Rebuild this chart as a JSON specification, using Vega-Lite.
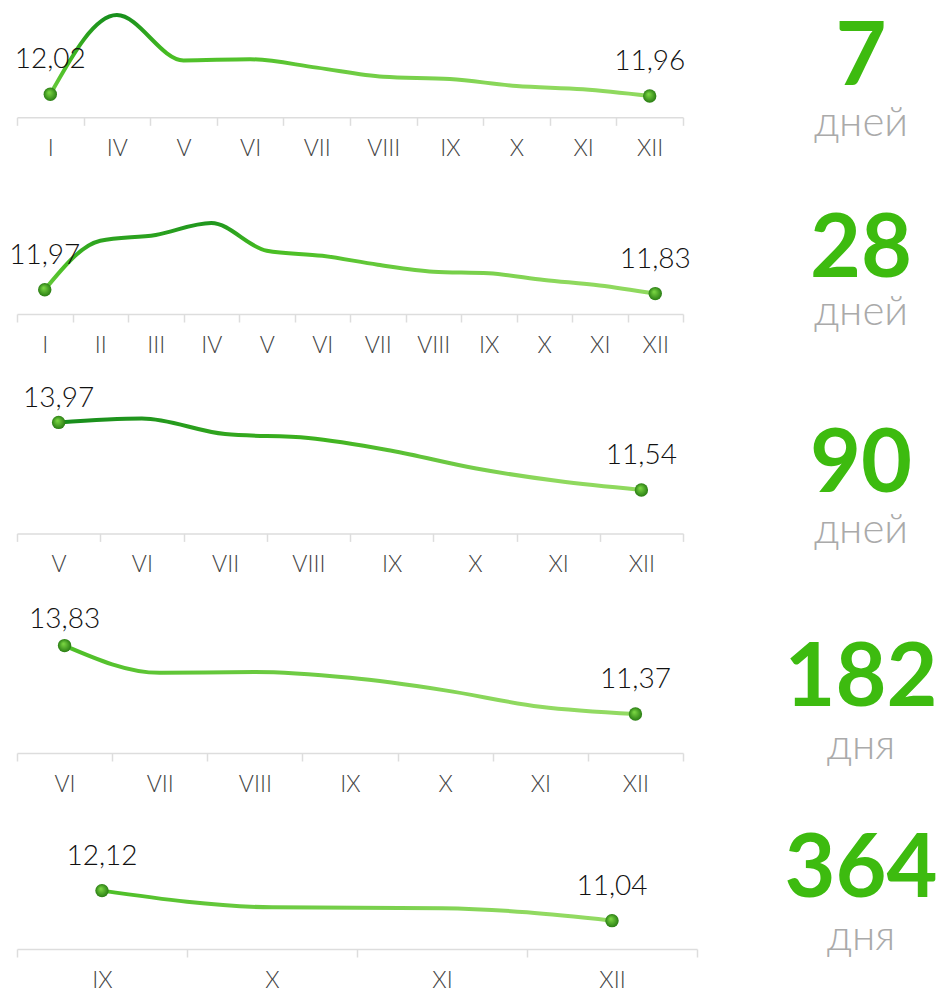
{
  "$schema": "https://vega.github.io/schema/vega-lite/v6.json",
  "autosize": {"type": "pad"},
  "padding": {"left": 9, "top": 5, "right": 0, "bottom": 0},
  "background": "white",
  "spacing": 83,
  "datasets": {
    "p7": [
      {"m": "I", "v": 12.02}, {"m": "IV", "v": 14.87}, {"m": "V", "v": 13.24}, {"m": "VI", "v": 13.28},
      {"m": "VII", "v": 12.98}, {"m": "VIII", "v": 12.65}, {"m": "IX", "v": 12.57}, {"m": "X", "v": 12.32},
      {"m": "XI", "v": 12.2}, {"m": "XII", "v": 11.96}
    ],
    "p28": [
      {"m": "I", "v": 11.97}, {"m": "II", "v": 13.73}, {"m": "III", "v": 13.94}, {"m": "IV", "v": 14.37},
      {"m": "V", "v": 13.37}, {"m": "VI", "v": 13.19}, {"m": "VII", "v": 12.87}, {"m": "VIII", "v": 12.62},
      {"m": "IX", "v": 12.56}, {"m": "X", "v": 12.32}, {"m": "XI", "v": 12.12}, {"m": "XII", "v": 11.83}
    ],
    "p90": [
      {"m": "V", "v": 13.97}, {"m": "VI", "v": 14.11}, {"m": "VII", "v": 13.55}, {"m": "VIII", "v": 13.41},
      {"m": "IX", "v": 12.95}, {"m": "X", "v": 12.32}, {"m": "XI", "v": 11.86}, {"m": "XII", "v": 11.54}
    ],
    "p182": [
      {"m": "VI", "v": 13.83}, {"m": "VII", "v": 12.85}, {"m": "VIII", "v": 12.88}, {"m": "IX", "v": 12.67},
      {"m": "X", "v": 12.22}, {"m": "XI", "v": 11.63}, {"m": "XII", "v": 11.37}
    ],
    "p364": [
      {"m": "IX", "v": 12.12}, {"m": "X", "v": 11.52}, {"m": "XI", "v": 11.49}, {"m": "XII", "v": 11.04}
    ],
    "terms": [
      {"n": "7", "unit": "дней"}, {"n": "28", "unit": "дней"}, {"n": "90", "unit": "дней"},
      {"n": "182", "unit": "дня"}, {"n": "364", "unit": "дня"}
    ]
  },
  "hconcat": [
    {
      "bounds": "flush",
      "spacing": 50,
      "vconcat": [
        {
          "width": 666, "height": 112.3,
          "data": {"name": "p7"},
          "encoding": {
            "x": {"field": "m", "type": "ordinal", "sort": null, "scale": {"type": "band", "paddingInner": 0, "paddingOuter": 0}, "axis": {"title": null, "labelAngle": 0, "tickBand": "extent"}},
            "y": {"field": "v", "type": "quantitative", "scale": {"domain": [11.193, 15.233], "zero": false, "nice": false}, "axis": null}
          },
          "layer": [
            {"mark": {"type": "line", "interpolate": "monotone", "strokeWidth": 4, "stroke": {"gradient": "linear", "x1": 0, "y1": 0, "x2": 0.6, "y2": 1, "stops": [{"offset": 0, "color": "#138a1c"}, {"offset": 0.45, "color": "#47bd22"}, {"offset": 1, "color": "#8fd95e"}]}}},
            {"transform": [{"filter": {"field": "m", "oneOf": ["I", "XII"]}}], "mark": {"type": "point", "filled": true, "size": 180, "opacity": 1, "fill": {"gradient": "radial", "x1": 0.4, "y1": 0.35, "r1": 0, "x2": 0.5, "y2": 0.5, "r2": 0.5, "stops": [{"offset": 0, "color": "#7fdc45"}, {"offset": 1, "color": "#2a7e14"}]}}},
            {"transform": [{"filter": {"field": "m", "oneOf": ["I", "XII"]}}], "mark": {"type": "text", "font": "Lato", "fontSize": 28, "fontWeight": 300, "color": "#111111", "baseline": "alphabetic", "dy": -26}, "encoding": {"text": {"field": "v", "type": "quantitative", "format": ".2f"}}}
          ]
        },
        {
          "width": 666, "height": 146,
          "data": {"name": "p28"},
          "encoding": {
            "x": {"field": "m", "type": "ordinal", "sort": null, "scale": {"type": "band", "paddingInner": 0, "paddingOuter": 0}, "axis": {"title": null, "labelAngle": 0, "tickBand": "extent"}},
            "y": {"field": "v", "type": "quantitative", "scale": {"domain": [11.096, 16.348], "zero": false, "nice": false}, "axis": null}
          },
          "layer": [
            {"mark": {"type": "line", "interpolate": "monotone", "strokeWidth": 4, "stroke": {"gradient": "linear", "x1": 0, "y1": 0, "x2": 0.6, "y2": 1, "stops": [{"offset": 0, "color": "#138a1c"}, {"offset": 0.45, "color": "#47bd22"}, {"offset": 1, "color": "#8fd95e"}]}}},
            {"transform": [{"filter": {"field": "m", "oneOf": ["I", "XII"]}}], "mark": {"type": "point", "filled": true, "size": 180, "opacity": 1, "fill": {"gradient": "radial", "x1": 0.4, "y1": 0.35, "r1": 0, "x2": 0.5, "y2": 0.5, "r2": 0.5, "stops": [{"offset": 0, "color": "#7fdc45"}, {"offset": 1, "color": "#2a7e14"}]}}},
            {"transform": [{"filter": {"field": "m", "oneOf": ["I", "XII"]}}], "mark": {"type": "text", "font": "Lato", "fontSize": 28, "fontWeight": 300, "color": "#111111", "baseline": "alphabetic", "dy": -26}, "encoding": {"text": {"field": "v", "type": "quantitative", "format": ".2f"}}}
          ]
        },
        {
          "width": 666, "height": 169.4,
          "data": {"name": "p90"},
          "encoding": {
            "x": {"field": "m", "type": "ordinal", "sort": null, "scale": {"type": "band", "paddingInner": 0, "paddingOuter": 0}, "axis": {"title": null, "labelAngle": 0, "tickBand": "extent"}},
            "y": {"field": "v", "type": "quantitative", "scale": {"domain": [9.977, 16.071], "zero": false, "nice": false}, "axis": null}
          },
          "layer": [
            {"mark": {"type": "line", "interpolate": "monotone", "strokeWidth": 4, "stroke": {"gradient": "linear", "x1": 0, "y1": 0, "x2": 1, "y2": 0.3, "stops": [{"offset": 0, "color": "#168c1c"}, {"offset": 0.5, "color": "#3fb31f"}, {"offset": 1, "color": "#8fd95e"}]}}},
            {"transform": [{"filter": {"field": "m", "oneOf": ["V", "XII"]}}], "mark": {"type": "point", "filled": true, "size": 180, "opacity": 1, "fill": {"gradient": "radial", "x1": 0.4, "y1": 0.35, "r1": 0, "x2": 0.5, "y2": 0.5, "r2": 0.5, "stops": [{"offset": 0, "color": "#7fdc45"}, {"offset": 1, "color": "#2a7e14"}]}}},
            {"transform": [{"filter": {"field": "m", "equal": "V"}}], "mark": {"type": "text", "font": "Lato", "fontSize": 28, "fontWeight": 300, "color": "#111111", "baseline": "alphabetic", "dy": -15}, "encoding": {"text": {"field": "v", "type": "quantitative", "format": ".2f"}}},
            {"transform": [{"filter": {"field": "m", "equal": "XII"}}], "mark": {"type": "text", "font": "Lato", "fontSize": 28, "fontWeight": 300, "color": "#111111", "baseline": "alphabetic", "dy": -26}, "encoding": {"text": {"field": "v", "type": "quantitative", "format": ".2f"}}}
          ]
        },
        {
          "width": 666, "height": 169,
          "data": {"name": "p182"},
          "encoding": {
            "x": {"field": "m", "type": "ordinal", "sort": null, "scale": {"type": "band", "paddingInner": 0, "paddingOuter": 0}, "axis": {"title": null, "labelAngle": 0, "tickBand": "extent"}},
            "y": {"field": "v", "type": "quantitative", "scale": {"domain": [9.967, 16.046], "zero": false, "nice": false}, "axis": null}
          },
          "layer": [
            {"mark": {"type": "line", "interpolate": "monotone", "strokeWidth": 4, "stroke": {"gradient": "linear", "x1": 0, "y1": 0, "x2": 1, "y2": 0.3, "stops": [{"offset": 0, "color": "#4cbe26"}, {"offset": 1, "color": "#92da62"}]}}},
            {"transform": [{"filter": {"field": "m", "oneOf": ["VI", "XII"]}}], "mark": {"type": "point", "filled": true, "size": 180, "opacity": 1, "fill": {"gradient": "radial", "x1": 0.4, "y1": 0.35, "r1": 0, "x2": 0.5, "y2": 0.5, "r2": 0.5, "stops": [{"offset": 0, "color": "#7fdc45"}, {"offset": 1, "color": "#2a7e14"}]}}},
            {"transform": [{"filter": {"field": "m", "equal": "VI"}}], "mark": {"type": "text", "font": "Lato", "fontSize": 28, "fontWeight": 300, "color": "#111111", "baseline": "alphabetic", "dy": -18}, "encoding": {"text": {"field": "v", "type": "quantitative", "format": ".2f"}}},
            {"transform": [{"filter": {"field": "m", "equal": "XII"}}], "mark": {"type": "text", "font": "Lato", "fontSize": 28, "fontWeight": 300, "color": "#111111", "baseline": "alphabetic", "dy": -26}, "encoding": {"text": {"field": "v", "type": "quantitative", "format": ".2f"}}}
          ]
        },
        {
          "width": 680, "height": 146,
          "data": {"name": "p364"},
          "encoding": {
            "x": {"field": "m", "type": "ordinal", "sort": null, "scale": {"type": "band", "paddingInner": 0, "paddingOuter": 0}, "axis": {"title": null, "labelAngle": 0, "tickBand": "extent"}},
            "y": {"field": "v", "type": "quantitative", "scale": {"domain": [10.02, 15.272], "zero": false, "nice": false}, "axis": null}
          },
          "layer": [
            {"mark": {"type": "line", "interpolate": "monotone", "strokeWidth": 4, "stroke": {"gradient": "linear", "x1": 0, "y1": 0, "x2": 1, "y2": 0.3, "stops": [{"offset": 0, "color": "#4cbe26"}, {"offset": 1, "color": "#92da62"}]}}},
            {"transform": [{"filter": {"field": "m", "oneOf": ["IX", "XII"]}}], "mark": {"type": "point", "filled": true, "size": 180, "opacity": 1, "fill": {"gradient": "radial", "x1": 0.4, "y1": 0.35, "r1": 0, "x2": 0.5, "y2": 0.5, "r2": 0.5, "stops": [{"offset": 0, "color": "#7fdc45"}, {"offset": 1, "color": "#2a7e14"}]}}},
            {"transform": [{"filter": {"field": "m", "oneOf": ["IX", "XII"]}}], "mark": {"type": "text", "font": "Lato", "fontSize": 28, "fontWeight": 300, "color": "#111111", "baseline": "alphabetic", "dy": -26}, "encoding": {"text": {"field": "v", "type": "quantitative", "format": ".2f"}}}
          ]
        }
      ]
    },
    {
      "bounds": "flush",
      "spacing": 50,
      "vconcat": [
        {
          "width": 160, "height": 112.3,
          "data": {"name": "terms"},
          "transform": [{"filter": "datum.n == '7'"}],
          "layer": [
            {"mark": {"type": "text", "font": "Lato", "fontSize": 88, "fontWeight": "bold", "color": "#3dbb0f", "baseline": "alphabetic", "dy": 23.85}, "encoding": {"text": {"field": "n"}}},
            {"mark": {"type": "text", "font": "Lato", "fontSize": 42, "fontWeight": 300, "color": "#aaaaaa", "baseline": "alphabetic", "dy": 74.85}, "encoding": {"text": {"field": "unit"}}}
          ]
        },
        {
          "width": 160, "height": 146,
          "data": {"name": "terms"},
          "transform": [{"filter": "datum.n == '28'"}],
          "layer": [
            {"mark": {"type": "text", "font": "Lato", "fontSize": 88, "fontWeight": "bold", "color": "#3dbb0f", "baseline": "alphabetic", "dy": 36.4}, "encoding": {"text": {"field": "n"}}},
            {"mark": {"type": "text", "font": "Lato", "fontSize": 42, "fontWeight": 300, "color": "#aaaaaa", "baseline": "alphabetic", "dy": 83.7}, "encoding": {"text": {"field": "unit"}}}
          ]
        },
        {
          "width": 160, "height": 169.4,
          "data": {"name": "terms"},
          "transform": [{"filter": "datum.n == '90'"}],
          "layer": [
            {"mark": {"type": "text", "font": "Lato", "fontSize": 88, "fontWeight": "bold", "color": "#3dbb0f", "baseline": "alphabetic", "dy": 42.8}, "encoding": {"text": {"field": "n"}}},
            {"mark": {"type": "text", "font": "Lato", "fontSize": 42, "fontWeight": 300, "color": "#aaaaaa", "baseline": "alphabetic", "dy": 93.8}, "encoding": {"text": {"field": "unit"}}}
          ]
        },
        {
          "width": 160, "height": 169,
          "data": {"name": "terms"},
          "transform": [{"filter": "datum.n == '182'"}],
          "layer": [
            {"mark": {"type": "text", "font": "Lato", "fontSize": 88, "fontWeight": "bold", "color": "#3dbb0f", "baseline": "alphabetic", "dy": 37.3}, "encoding": {"text": {"field": "n"}}},
            {"mark": {"type": "text", "font": "Lato", "fontSize": 42, "fontWeight": 300, "color": "#aaaaaa", "baseline": "alphabetic", "dy": 90.2}, "encoding": {"text": {"field": "unit"}}}
          ]
        },
        {
          "width": 160, "height": 146,
          "data": {"name": "terms"},
          "transform": [{"filter": "datum.n == '364'"}],
          "layer": [
            {"mark": {"type": "text", "font": "Lato", "fontSize": 88, "fontWeight": "bold", "color": "#3dbb0f", "baseline": "alphabetic", "dy": 20.8}, "encoding": {"text": {"field": "n"}}},
            {"mark": {"type": "text", "font": "Lato", "fontSize": 42, "fontWeight": 300, "color": "#aaaaaa", "baseline": "alphabetic", "dy": 73.7}, "encoding": {"text": {"field": "unit"}}}
          ]
        }
      ]
    }
  ],
  "config": {
    "view": {"stroke": null},
    "font": "Lato",
    "locale": {"number": {"decimal": ",", "thousands": " ", "grouping": [3], "currency": ["", ""]}},
    "axis": {
      "domainColor": "#dddddd", "domainWidth": 1.5,
      "tickColor": "#dddddd", "tickWidth": 1.5, "tickSize": 8,
      "labelFont": "Lato", "labelFontSize": 23, "labelFontWeight": 300, "labelColor": "#444444", "labelPadding": 12,
      "grid": false
    }
  }
}
